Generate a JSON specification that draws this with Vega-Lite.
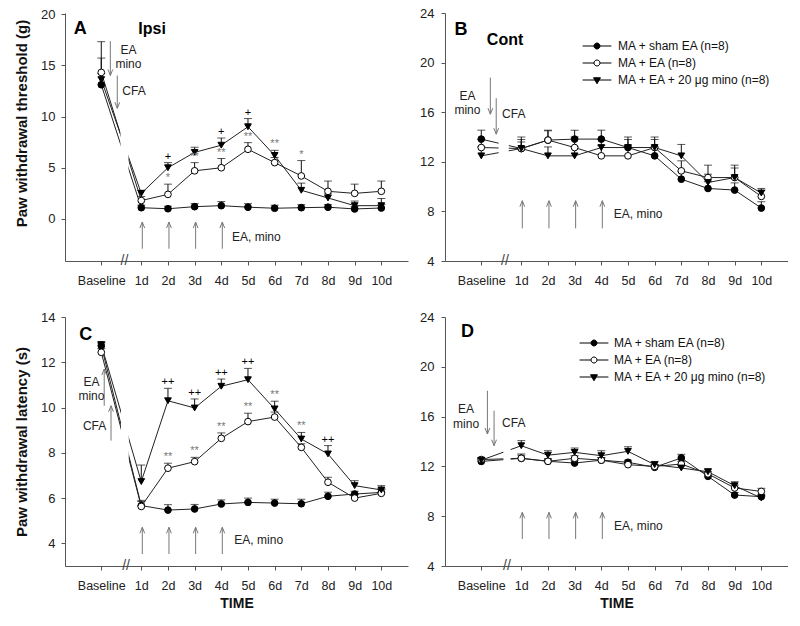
{
  "$schema": "https://vega.github.io/schema/vega-lite/v6.json",
  "padding": {"left": 14, "top": 7, "right": 0, "bottom": 0},
  "background": "white",
  "config": {
    "font": "Liberation Sans",
    "view": {"stroke": null},
    "axis": {"grid": false, "domainColor": "#555", "tickColor": "#555", "tickSize": 4, "labelFontSize": 13, "labelColor": "#222", "titleFontSize": 15, "titleFontWeight": "bold", "titleColor": "#111", "labelFont": "Liberation Sans", "titleFont": "Liberation Sans"},
    "axisX": {"labelPadding": 9, "labelFontSize": 12.5, "titleFontSize": 14, "titlePadding": 5, "labelFlush": false, "labelOverlap": false},
    "axisY": {"labelPadding": 6, "titlePadding": 11, "labelOverlap": false},
    "text": {"font": "Liberation Sans"}
  },
  "datasets": {
    "A": [
      {"series": "sham", "t": -0.5, "mean": 13.1, "upper": 15.7},
      {"series": "sham", "t": 1, "mean": 1.1, "upper": 1.35},
      {"series": "sham", "t": 2, "mean": 1.0, "upper": 1.25},
      {"series": "sham", "t": 3, "mean": 1.2, "upper": 1.5},
      {"series": "sham", "t": 4, "mean": 1.3, "upper": 1.7},
      {"series": "sham", "t": 5, "mean": 1.15, "upper": 1.5},
      {"series": "sham", "t": 6, "mean": 1.05, "upper": 1.35},
      {"series": "sham", "t": 7, "mean": 1.1, "upper": 1.4},
      {"series": "sham", "t": 8, "mean": 1.15, "upper": 1.4},
      {"series": "sham", "t": 9, "mean": 0.98, "upper": 1.2},
      {"series": "sham", "t": 10, "mean": 1.07, "upper": 1.4},
      {"series": "EA", "t": -0.5, "mean": 14.3, "upper": 17.3},
      {"series": "EA", "t": 1, "mean": 1.8, "upper": 2.2},
      {"series": "EA", "t": 2, "mean": 2.4, "upper": 3.4, "sig": "*"},
      {"series": "EA", "t": 3, "mean": 4.7, "upper": 5.5, "sig": "**"},
      {"series": "EA", "t": 4, "mean": 5.0, "upper": 5.9, "sig": "**"},
      {"series": "EA", "t": 5, "mean": 6.8, "upper": 7.45, "sig": "**"},
      {"series": "EA", "t": 6, "mean": 5.5, "upper": 6.0},
      {"series": "EA", "t": 7, "mean": 4.2, "upper": 5.7, "sig": "*"},
      {"series": "EA", "t": 8, "mean": 2.7, "upper": 3.7},
      {"series": "EA", "t": 9, "mean": 2.5, "upper": 3.4},
      {"series": "EA", "t": 10, "mean": 2.7, "upper": 3.7},
      {"series": "mino", "t": -0.5, "mean": 13.6, "upper": 14.2},
      {"series": "mino", "t": 1, "mean": 2.5, "upper": 2.8},
      {"series": "mino", "t": 2, "mean": 5.0, "upper": 5.5, "sig": "+"},
      {"series": "mino", "t": 3, "mean": 6.5, "upper": 7.0},
      {"series": "mino", "t": 4, "mean": 7.2, "upper": 7.9, "sig": "+"},
      {"series": "mino", "t": 5, "mean": 9.0, "upper": 9.8, "sig": "+"},
      {"series": "mino", "t": 6, "mean": 6.2, "upper": 6.7, "sig": "**"},
      {"series": "mino", "t": 7, "mean": 2.8, "upper": 3.5},
      {"series": "mino", "t": 8, "mean": 2.05, "upper": 2.45},
      {"series": "mino", "t": 9, "mean": 1.3, "upper": 1.75},
      {"series": "mino", "t": 10, "mean": 1.3, "upper": 2.0}
    ],
    "B": [
      {"series": "sham", "t": -0.5, "mean": 13.83, "upper": 14.55},
      {"series": "sham", "t": 1, "mean": 13.07, "upper": 14.0},
      {"series": "sham", "t": 2, "mean": 13.75, "upper": 14.5},
      {"series": "sham", "t": 3, "mean": 13.83, "upper": 14.55},
      {"series": "sham", "t": 4, "mean": 13.83, "upper": 14.55},
      {"series": "sham", "t": 5, "mean": 13.15, "upper": 14.0},
      {"series": "sham", "t": 6, "mean": 12.48, "upper": 13.2},
      {"series": "sham", "t": 7, "mean": 10.6, "upper": 11.2},
      {"series": "sham", "t": 8, "mean": 9.85, "upper": 10.4},
      {"series": "sham", "t": 9, "mean": 9.72, "upper": 10.3},
      {"series": "sham", "t": 10, "mean": 8.27, "upper": 8.78},
      {"series": "EA", "t": -0.5, "mean": 13.15, "upper": 13.8},
      {"series": "EA", "t": 1, "mean": 13.07, "upper": 13.8},
      {"series": "EA", "t": 2, "mean": 13.75, "upper": 14.55},
      {"series": "EA", "t": 3, "mean": 13.15, "upper": 14.0},
      {"series": "EA", "t": 4, "mean": 12.48, "upper": 13.3},
      {"series": "EA", "t": 5, "mean": 12.48, "upper": 13.3},
      {"series": "EA", "t": 6, "mean": 13.15, "upper": 14.0},
      {"series": "EA", "t": 7, "mean": 11.27, "upper": 12.08},
      {"series": "EA", "t": 8, "mean": 10.73, "upper": 11.73},
      {"series": "EA", "t": 9, "mean": 10.73, "upper": 11.73},
      {"series": "EA", "t": 10, "mean": 9.21, "upper": 9.7},
      {"series": "mino", "t": -0.5, "mean": 12.48, "upper": 13.2},
      {"series": "mino", "t": 1, "mean": 13.07, "upper": 13.6},
      {"series": "mino", "t": 2, "mean": 12.48, "upper": 13.2},
      {"series": "mino", "t": 3, "mean": 12.48, "upper": 13.2},
      {"series": "mino", "t": 4, "mean": 13.15, "upper": 13.8},
      {"series": "mino", "t": 5, "mean": 13.15, "upper": 13.8},
      {"series": "mino", "t": 6, "mean": 13.15, "upper": 13.8},
      {"series": "mino", "t": 7, "mean": 12.48, "upper": 13.4},
      {"series": "mino", "t": 8, "mean": 10.33, "upper": 11.0},
      {"series": "mino", "t": 9, "mean": 10.73, "upper": 11.5},
      {"series": "mino", "t": 10, "mean": 9.48, "upper": 9.85}
    ],
    "C": [
      {"series": "sham", "t": -0.5, "mean": 12.73, "upper": 12.85},
      {"series": "sham", "t": 1, "mean": 5.67, "upper": 5.85},
      {"series": "sham", "t": 2, "mean": 5.47, "upper": 5.71},
      {"series": "sham", "t": 3, "mean": 5.52, "upper": 5.72},
      {"series": "sham", "t": 4, "mean": 5.74, "upper": 5.92},
      {"series": "sham", "t": 5, "mean": 5.81, "upper": 6.0},
      {"series": "sham", "t": 6, "mean": 5.78, "upper": 5.95},
      {"series": "sham", "t": 7, "mean": 5.75, "upper": 5.95},
      {"series": "sham", "t": 8, "mean": 6.08, "upper": 6.26},
      {"series": "sham", "t": 9, "mean": 6.18, "upper": 6.3},
      {"series": "sham", "t": 10, "mean": 6.25, "upper": 6.4},
      {"series": "EA", "t": -0.5, "mean": 12.44, "upper": 12.6},
      {"series": "EA", "t": 1, "mean": 5.63, "upper": 5.9},
      {"series": "EA", "t": 2, "mean": 7.32, "upper": 7.54, "sig": "**"},
      {"series": "EA", "t": 3, "mean": 7.61, "upper": 7.8, "sig": "**"},
      {"series": "EA", "t": 4, "mean": 8.64, "upper": 8.88, "sig": "**"},
      {"series": "EA", "t": 5, "mean": 9.38, "upper": 9.75, "sig": "**"},
      {"series": "EA", "t": 6, "mean": 9.58, "upper": 9.8},
      {"series": "EA", "t": 7, "mean": 8.24, "upper": 8.4},
      {"series": "EA", "t": 8, "mean": 6.7, "upper": 6.92},
      {"series": "EA", "t": 9, "mean": 6.0, "upper": 6.15},
      {"series": "EA", "t": 10, "mean": 6.21, "upper": 6.4},
      {"series": "mino", "t": -0.5, "mean": 12.78, "upper": 12.9},
      {"series": "mino", "t": 1, "mean": 6.73, "upper": 7.46},
      {"series": "mino", "t": 2, "mean": 10.3, "upper": 10.85, "sig": "++"},
      {"series": "mino", "t": 3, "mean": 9.98, "upper": 10.38, "sig": "++"},
      {"series": "mino", "t": 4, "mean": 10.94, "upper": 11.26, "sig": "++"},
      {"series": "mino", "t": 5, "mean": 11.23, "upper": 11.73, "sig": "++"},
      {"series": "mino", "t": 6, "mean": 9.94, "upper": 10.28, "sig": "**"},
      {"series": "mino", "t": 7, "mean": 8.61, "upper": 8.9, "sig": "**"},
      {"series": "mino", "t": 8, "mean": 7.95, "upper": 8.32, "sig": "++"},
      {"series": "mino", "t": 9, "mean": 6.55, "upper": 6.77},
      {"series": "mino", "t": 10, "mean": 6.36, "upper": 6.55}
    ],
    "D": [
      {"series": "sham", "t": -0.5, "mean": 12.4, "upper": 12.6},
      {"series": "sham", "t": 1, "mean": 12.65, "upper": 12.9},
      {"series": "sham", "t": 2, "mean": 12.41, "upper": 12.6},
      {"series": "sham", "t": 3, "mean": 12.27, "upper": 12.5},
      {"series": "sham", "t": 4, "mean": 12.5, "upper": 12.7},
      {"series": "sham", "t": 5, "mean": 12.33, "upper": 12.5},
      {"series": "sham", "t": 6, "mean": 11.93, "upper": 12.1},
      {"series": "sham", "t": 7, "mean": 12.68, "upper": 12.97},
      {"series": "sham", "t": 8, "mean": 11.2, "upper": 11.45},
      {"series": "sham", "t": 9, "mean": 9.7, "upper": 9.9},
      {"series": "sham", "t": 10, "mean": 9.57, "upper": 9.75},
      {"series": "EA", "t": -0.5, "mean": 12.55, "upper": 12.7},
      {"series": "EA", "t": 1, "mean": 12.65, "upper": 13.0},
      {"series": "EA", "t": 2, "mean": 12.41, "upper": 12.6},
      {"series": "EA", "t": 3, "mean": 12.65, "upper": 12.85},
      {"series": "EA", "t": 4, "mean": 12.5, "upper": 12.7},
      {"series": "EA", "t": 5, "mean": 12.14, "upper": 12.3},
      {"series": "EA", "t": 6, "mean": 12.0, "upper": 12.15},
      {"series": "EA", "t": 7, "mean": 12.19, "upper": 12.4},
      {"series": "EA", "t": 8, "mean": 11.4, "upper": 11.6},
      {"series": "EA", "t": 9, "mean": 10.27, "upper": 10.5},
      {"series": "EA", "t": 10, "mean": 9.99, "upper": 10.24},
      {"series": "mino", "t": -0.5, "mean": 12.5, "upper": 12.65},
      {"series": "mino", "t": 1, "mean": 13.66, "upper": 14.07},
      {"series": "mino", "t": 2, "mean": 12.9, "upper": 13.26},
      {"series": "mino", "t": 3, "mean": 13.13, "upper": 13.48},
      {"series": "mino", "t": 4, "mean": 12.86, "upper": 13.26},
      {"series": "mino", "t": 5, "mean": 13.21, "upper": 13.58},
      {"series": "mino", "t": 6, "mean": 12.14, "upper": 12.4},
      {"series": "mino", "t": 7, "mean": 11.87, "upper": 12.05},
      {"series": "mino", "t": 8, "mean": 11.57, "upper": 11.8},
      {"series": "mino", "t": 9, "mean": 10.45, "upper": 10.77},
      {"series": "mino", "t": 10, "mean": 9.46, "upper": 9.65}
    ]
  },
  "resolve": {"scale": {"x": "independent", "y": "independent", "shape": "independent", "fill": "independent"}, "legend": {"shape": "independent", "fill": "independent"}},
  "bounds": "flush",
  "columns": 2,
  "spacing": {"row": 56, "column": 37},
  "concat": [
    {
      "width": 343, "height": 248,
      "data": {"name": "A"},
      "resolve": {"scale": {"shape": "independent", "fill": "independent"}, "legend": {"shape": "independent", "fill": "independent"}},
      "encoding": {
        "x": {"field": "t", "type": "quantitative", "scale": {"domain": [-1.86, 11], "nice": false, "zero": false}, "axis": {"values": [-0.5, 1, 2, 3, 4, 5, 6, 7, 8, 9, 10], "labelExpr": "datum.value < 0 ? 'Baseline' : datum.value + 'd'", "title": null}},
        "y": {"field": "mean", "type": "quantitative", "scale": {"domain": [-4.1, 20.1], "nice": false, "zero": false}, "axis": {"values": [0, 5, 10, 15, 20], "title": "Paw withdrawal threshold (g)", "titleY": 110}}
      },
      "layer": [
        {"transform": [{"filter": "datum.upper > datum.mean"}], "mark": {"type": "rule", "color": "#111", "strokeWidth": 1}, "encoding": {"y2": {"field": "upper"}}},
        {"transform": [{"filter": "datum.upper > datum.mean"}], "mark": {"type": "tick", "orient": "horizontal", "color": "#111", "size": 8, "thickness": 1}, "encoding": {"y": {"field": "upper", "type": "quantitative"}}},
        {"mark": {"type": "line", "color": "#222", "strokeWidth": 1}, "encoding": {"detail": {"field": "series"}}},
        {"transform": [{"filter": "datum.series == 'sham' && datum.t == 1"}], "mark": {"type": "rect", "color": "white"}, "encoding": {"x": {"datum": 0.22}, "x2": {"datum": 0.52}, "y": {"datum": 0.5}, "y2": {"datum": 12}}},
        {"mark": {"type": "point", "size": 45, "filled": true, "stroke": "black", "strokeWidth": 1, "opacity": 1}, "encoding": {"shape": {"field": "series", "scale": {"domain": ["sham", "EA", "mino"], "range": ["circle", "circle", "triangle-down"]}, "legend": null}, "fill": {"field": "series", "scale": {"domain": ["sham", "EA", "mino"], "range": ["black", "white", "black"]}, "legend": null}}},
        {"transform": [{"filter": "datum.sig"}], "mark": {"type": "text", "baseline": "bottom", "dy": -1, "fontSize": 11}, "encoding": {"y": {"field": "upper", "type": "quantitative"}, "text": {"field": "sig"}, "color": {"condition": {"test": "indexof(datum.sig, '*') >= 0", "value": "#777"}, "value": "#000"}}},
        {"transform": [{"filter": "datum.series == 'sham' && datum.t >= 1 && datum.t <= 4"}], "mark": {"type": "rule", "color": "#777", "xOffset": 1}, "encoding": {"y": {"datum": -2.9}, "y2": {"datum": -0.3}}},
        {"transform": [{"filter": "datum.series == 'sham' && datum.t >= 1 && datum.t <= 4"}], "mark": {"type": "point", "shape": "M-0.6,1.5L0,0L0.6,1.5", "size": 64, "filled": false, "color": "#777", "strokeWidth": 1, "opacity": 1, "xOffset": 1}, "encoding": {"y": {"datum": -0.3}}},
        {"transform": [{"filter": "datum.series == 'sham' && datum.t == 1"}], "mark": {"type": "rule", "color": "#777"}, "encoding": {"x": {"datum": -0.16}, "y": {"datum": 17.35}, "y2": {"datum": 14.0}}},
        {"transform": [{"filter": "datum.series == 'sham' && datum.t == 1"}], "mark": {"type": "point", "shape": "M-0.6,-1.5L0,0L0.6,-1.5", "size": 64, "filled": false, "color": "#777", "strokeWidth": 1, "opacity": 1}, "encoding": {"x": {"datum": -0.16}, "y": {"datum": 14.0}}},
        {"transform": [{"filter": "datum.series == 'sham' && datum.t == 1"}], "mark": {"type": "rule", "color": "#777"}, "encoding": {"x": {"datum": 0.1}, "y": {"datum": 14.0}, "y2": {"datum": 10.8}}},
        {"transform": [{"filter": "datum.series == 'sham' && datum.t == 1"}], "mark": {"type": "point", "shape": "M-0.6,-1.5L0,0L0.6,-1.5", "size": 64, "filled": false, "color": "#777", "strokeWidth": 1, "opacity": 1}, "encoding": {"x": {"datum": 0.1}, "y": {"datum": 10.8}}},
        {"transform": [{"filter": "datum.series == 'sham' && datum.t == 1"}], "mark": {"type": "text", "text": "A", "fontSize": 18, "fontWeight": "bold", "color": "black"}, "encoding": {"x": {"datum": -1.29}, "y": {"datum": 18.5}}},
        {"transform": [{"filter": "datum.series == 'sham' && datum.t == 1"}], "mark": {"type": "text", "text": "Ipsi", "align": "left", "fontSize": 16, "fontWeight": "bold", "color": "black"}, "encoding": {"x": {"datum": 0.89}, "y": {"datum": 18.5}}},
        {"transform": [{"filter": "datum.series == 'sham' && datum.t == 1"}], "mark": {"type": "text", "text": "EA", "align": "left", "fontSize": 12, "color": "#222"}, "encoding": {"x": {"datum": 0.22}, "y": {"datum": 16.5}}},
        {"transform": [{"filter": "datum.series == 'sham' && datum.t == 1"}], "mark": {"type": "text", "text": "mino", "align": "left", "fontSize": 12, "color": "#222"}, "encoding": {"x": {"datum": 0.03}, "y": {"datum": 15.1}}},
        {"transform": [{"filter": "datum.series == 'sham' && datum.t == 1"}], "mark": {"type": "text", "text": "CFA", "align": "left", "fontSize": 12, "color": "#222"}, "encoding": {"x": {"datum": 0.29}, "y": {"datum": 12.45}}},
        {"transform": [{"filter": "datum.series == 'sham' && datum.t == 1"}], "mark": {"type": "text", "text": "EA, mino", "align": "left", "fontSize": 12, "color": "#222"}, "encoding": {"x": {"datum": 4.4}, "y": {"datum": -1.8}}},
        {"transform": [{"filter": "datum.series == 'sham' && datum.t == 1"}], "mark": {"type": "text", "text": "//", "fontSize": 14, "color": "#444"}, "encoding": {"x": {"datum": 0.37}, "y": {"datum": -4.1}}}
      ]
    },
    {
      "width": 343, "height": 248,
      "data": {"name": "B"},
      "resolve": {"scale": {"shape": "independent", "fill": "independent"}, "legend": {"shape": "independent", "fill": "independent"}},
      "encoding": {
        "x": {"field": "t", "type": "quantitative", "scale": {"domain": [-1.86, 11], "nice": false, "zero": false}, "axis": {"values": [-0.5, 1, 2, 3, 4, 5, 6, 7, 8, 9, 10], "labelExpr": "datum.value < 0 ? 'Baseline' : datum.value + 'd'", "title": null}},
        "y": {"field": "mean", "type": "quantitative", "scale": {"domain": [4, 24], "nice": false, "zero": false}, "axis": {"values": [4, 8, 12, 16, 20, 24], "title": null, "labelPadding": 7}}
      },
      "layer": [
        {"transform": [{"filter": "datum.upper > datum.mean"}], "mark": {"type": "rule", "color": "#111", "strokeWidth": 1}, "encoding": {"y2": {"field": "upper"}}},
        {"transform": [{"filter": "datum.upper > datum.mean"}], "mark": {"type": "tick", "orient": "horizontal", "color": "#111", "size": 8, "thickness": 1}, "encoding": {"y": {"field": "upper", "type": "quantitative"}}},
        {"mark": {"type": "line", "color": "#222", "strokeWidth": 1}, "encoding": {"detail": {"field": "series"}}},
        {"transform": [{"filter": "datum.series == 'sham' && datum.t == 1"}], "mark": {"type": "rect", "color": "white"}, "encoding": {"x": {"datum": 0.15}, "x2": {"datum": 0.53}, "y": {"datum": 11.5}, "y2": {"datum": 14.5}}},
        {"mark": {"type": "point", "size": 45, "filled": true, "stroke": "black", "strokeWidth": 1, "opacity": 1}, "encoding": {"shape": {"field": "series", "scale": {"domain": ["sham", "EA", "mino"], "range": ["circle", "circle", "triangle-down"]}, "legend": null}, "fill": {"field": "series", "scale": {"domain": ["sham", "EA", "mino"], "range": ["black", "white", "black"]}, "legend": null}}},
        {"mark": {"type": "point", "opacity": 0, "filled": false, "color": "black", "strokeWidth": 1},
         "encoding": {
           "shape": {"field": "series", "scale": {"domain": ["sham", "EA", "mino"], "range": ["M-4.8,0H-1M1,0H4.8M-1,0A1,1,0,1,0,1,0A1,1,0,1,0,-1,0Z", "M-4.8,0H-1M1,0H4.8M-1,0A1,1,0,1,0,1,0A1,1,0,1,0,-1,0Z", "M-4.8,0H4.8M-1.15,-0.75L1.15,-0.75L0,1.25Z"]},
             "legend": {"orient": "none", "legendX": 146, "legendY": 27, "title": null, "padding": 0, "symbolSize": 36, "symbolOpacity": 1, "symbolStrokeWidth": 1, "labelOffset": 15, "rowPadding": 5, "labelFontSize": 12, "labelColor": "#111", "labelFont": "Liberation Sans", "labelExpr": "datum.label == 'sham' ? 'MA + sham EA (n=8)' : datum.label == 'EA' ? 'MA + EA (n=8)' : 'MA + EA + 20 μg mino (n=8)'", "encode": {"symbols": {"stroke": {"value": "#222"}, "strokeWidth": {"value": 1}}}}},
           "fill": {"field": "series", "scale": {"domain": ["sham", "EA", "mino"], "range": ["black", "white", "black"]},
             "legend": {"orient": "none", "legendX": 146, "legendY": 27, "title": null, "padding": 0, "symbolSize": 36, "symbolOpacity": 1, "symbolStrokeWidth": 1, "labelOffset": 15, "rowPadding": 5, "labelFontSize": 12, "labelColor": "#111", "labelFont": "Liberation Sans", "labelExpr": "datum.label == 'sham' ? 'MA + sham EA (n=8)' : datum.label == 'EA' ? 'MA + EA (n=8)' : 'MA + EA + 20 μg mino (n=8)'", "encode": {"symbols": {"stroke": {"value": "#222"}, "strokeWidth": {"value": 1}}}}}
         }},
        {"transform": [{"filter": "datum.series == 'sham' && datum.t >= 1 && datum.t <= 4"}], "mark": {"type": "rule", "color": "#777", "xOffset": 1}, "encoding": {"y": {"datum": 6.63}, "y2": {"datum": 8.86}}},
        {"transform": [{"filter": "datum.series == 'sham' && datum.t >= 1 && datum.t <= 4"}], "mark": {"type": "point", "shape": "M-0.6,1.5L0,0L0.6,1.5", "size": 64, "filled": false, "color": "#777", "strokeWidth": 1, "opacity": 1, "xOffset": 1}, "encoding": {"y": {"datum": 8.86}}},
        {"transform": [{"filter": "datum.series == 'sham' && datum.t == 1"}], "mark": {"type": "rule", "color": "#777"}, "encoding": {"x": {"datum": -0.16}, "y": {"datum": 18.79}, "y2": {"datum": 15.84}}},
        {"transform": [{"filter": "datum.series == 'sham' && datum.t == 1"}], "mark": {"type": "point", "shape": "M-0.6,-1.5L0,0L0.6,-1.5", "size": 64, "filled": false, "color": "#777", "strokeWidth": 1, "opacity": 1}, "encoding": {"x": {"datum": -0.16}, "y": {"datum": 15.84}}},
        {"transform": [{"filter": "datum.series == 'sham' && datum.t == 1"}], "mark": {"type": "rule", "color": "#777"}, "encoding": {"x": {"datum": 0.06}, "y": {"datum": 17.13}, "y2": {"datum": 14.23}}},
        {"transform": [{"filter": "datum.series == 'sham' && datum.t == 1"}], "mark": {"type": "point", "shape": "M-0.6,-1.5L0,0L0.6,-1.5", "size": 64, "filled": false, "color": "#777", "strokeWidth": 1, "opacity": 1}, "encoding": {"x": {"datum": 0.06}, "y": {"datum": 14.23}}},
        {"transform": [{"filter": "datum.series == 'sham' && datum.t == 1"}], "mark": {"type": "text", "text": "B", "fontSize": 18, "fontWeight": "bold", "color": "black"}, "encoding": {"x": {"datum": -1.26}, "y": {"datum": 22.6}}},
        {"transform": [{"filter": "datum.series == 'sham' && datum.t == 1"}], "mark": {"type": "text", "text": "Cont", "align": "left", "fontSize": 16, "fontWeight": "bold", "color": "black"}, "encoding": {"x": {"datum": -0.29}, "y": {"datum": 21.8}}},
        {"transform": [{"filter": "datum.series == 'sham' && datum.t == 1"}], "mark": {"type": "text", "text": "EA", "fontSize": 12, "color": "#222"}, "encoding": {"x": {"datum": -1.02}, "y": {"datum": 17.3}}},
        {"transform": [{"filter": "datum.series == 'sham' && datum.t == 1"}], "mark": {"type": "text", "text": "mino", "fontSize": 12, "color": "#222"}, "encoding": {"x": {"datum": -1.02}, "y": {"datum": 16.2}}},
        {"transform": [{"filter": "datum.series == 'sham' && datum.t == 1"}], "mark": {"type": "text", "text": "CFA", "align": "left", "fontSize": 12, "color": "#222"}, "encoding": {"x": {"datum": 0.28}, "y": {"datum": 15.84}}},
        {"transform": [{"filter": "datum.series == 'sham' && datum.t == 1"}], "mark": {"type": "text", "text": "EA, mino", "align": "left", "fontSize": 12, "color": "#222"}, "encoding": {"x": {"datum": 4.47}, "y": {"datum": 7.79}}},
        {"transform": [{"filter": "datum.series == 'sham' && datum.t == 1"}], "mark": {"type": "text", "text": "//", "fontSize": 14, "color": "#444"}, "encoding": {"x": {"datum": 0.39}, "y": {"datum": 4}}}
      ]
    },
    {
      "width": 343, "height": 249,
      "data": {"name": "C"},
      "resolve": {"scale": {"shape": "independent", "fill": "independent"}, "legend": {"shape": "independent", "fill": "independent"}},
      "encoding": {
        "x": {"field": "t", "type": "quantitative", "scale": {"domain": [-1.86, 11], "nice": false, "zero": false}, "axis": {"values": [-0.5, 1, 2, 3, 4, 5, 6, 7, 8, 9, 10], "labelExpr": "datum.value < 0 ? 'Baseline' : datum.value + 'd'", "title": "TIME"}},
        "y": {"field": "mean", "type": "quantitative", "scale": {"domain": [3, 14], "nice": false, "zero": false}, "axis": {"values": [4, 6, 8, 10, 12, 14], "title": "Paw withdrawal latency (s)"}}
      },
      "layer": [
        {"transform": [{"filter": "datum.upper > datum.mean"}], "mark": {"type": "rule", "color": "#111", "strokeWidth": 1}, "encoding": {"y2": {"field": "upper"}}},
        {"transform": [{"filter": "datum.upper > datum.mean"}], "mark": {"type": "tick", "orient": "horizontal", "color": "#111", "size": 8, "thickness": 1}, "encoding": {"y": {"field": "upper", "type": "quantitative"}}},
        {"mark": {"type": "line", "color": "#222", "strokeWidth": 1}, "encoding": {"detail": {"field": "series"}}},
        {"transform": [{"filter": "datum.series == 'sham' && datum.t == 1"}], "mark": {"type": "rect", "color": "white"}, "encoding": {"x": {"datum": 0.24}, "x2": {"datum": 0.53}, "y": {"datum": 6}, "y2": {"datum": 12.2}}},
        {"mark": {"type": "point", "size": 45, "filled": true, "stroke": "black", "strokeWidth": 1, "opacity": 1}, "encoding": {"shape": {"field": "series", "scale": {"domain": ["sham", "EA", "mino"], "range": ["circle", "circle", "triangle-down"]}, "legend": null}, "fill": {"field": "series", "scale": {"domain": ["sham", "EA", "mino"], "range": ["black", "white", "black"]}, "legend": null}}},
        {"transform": [{"filter": "datum.sig"}], "mark": {"type": "text", "baseline": "bottom", "dy": -1, "fontSize": 11}, "encoding": {"y": {"field": "upper", "type": "quantitative"}, "text": {"field": "sig"}, "color": {"condition": {"test": "indexof(datum.sig, '*') >= 0", "value": "#777"}, "value": "#000"}}},
        {"transform": [{"filter": "datum.series == 'sham' && datum.t >= 1 && datum.t <= 4"}], "mark": {"type": "rule", "color": "#777", "xOffset": 1}, "encoding": {"y": {"datum": 3.53}, "y2": {"datum": 4.71}}},
        {"transform": [{"filter": "datum.series == 'sham' && datum.t >= 1 && datum.t <= 4"}], "mark": {"type": "point", "shape": "M-0.6,1.5L0,0L0.6,1.5", "size": 64, "filled": false, "color": "#777", "strokeWidth": 1, "opacity": 1, "xOffset": 1}, "encoding": {"y": {"datum": 4.71}}},
        {"transform": [{"filter": "datum.series == 'sham' && datum.t == 1"}], "mark": {"type": "rule", "color": "#777"}, "encoding": {"x": {"datum": -0.39}, "y": {"datum": 10.08}, "y2": {"datum": 11.7}}},
        {"transform": [{"filter": "datum.series == 'sham' && datum.t == 1"}], "mark": {"type": "point", "shape": "M-0.6,1.5L0,0L0.6,1.5", "size": 64, "filled": false, "color": "#777", "strokeWidth": 1, "opacity": 1}, "encoding": {"x": {"datum": -0.39}, "y": {"datum": 11.7}}},
        {"transform": [{"filter": "datum.series == 'sham' && datum.t == 1"}], "mark": {"type": "rule", "color": "#777"}, "encoding": {"x": {"datum": -0.135}, "y": {"datum": 8.54}, "y2": {"datum": 10.08}}},
        {"transform": [{"filter": "datum.series == 'sham' && datum.t == 1"}], "mark": {"type": "point", "shape": "M-0.6,1.5L0,0L0.6,1.5", "size": 64, "filled": false, "color": "#777", "strokeWidth": 1, "opacity": 1}, "encoding": {"x": {"datum": -0.135}, "y": {"datum": 10.08}}},
        {"transform": [{"filter": "datum.series == 'sham' && datum.t == 1"}], "mark": {"type": "text", "text": "C", "fontSize": 18, "fontWeight": "bold", "color": "black"}, "encoding": {"x": {"datum": -1.08}, "y": {"datum": 13.2}}},
        {"transform": [{"filter": "datum.series == 'sham' && datum.t == 1"}], "mark": {"type": "text", "text": "EA", "fontSize": 12, "color": "#222"}, "encoding": {"x": {"datum": -0.87}, "y": {"datum": 11.12}}},
        {"transform": [{"filter": "datum.series == 'sham' && datum.t == 1"}], "mark": {"type": "text", "text": "mino", "fontSize": 12, "color": "#222"}, "encoding": {"x": {"datum": -0.87}, "y": {"datum": 10.52}}},
        {"transform": [{"filter": "datum.series == 'sham' && datum.t == 1"}], "mark": {"type": "text", "text": "CFA", "fontSize": 12, "color": "#222"}, "encoding": {"x": {"datum": -0.75}, "y": {"datum": 9.2}}},
        {"transform": [{"filter": "datum.series == 'sham' && datum.t == 1"}], "mark": {"type": "text", "text": "EA, mino", "align": "left", "fontSize": 12, "color": "#222"}, "encoding": {"x": {"datum": 4.49}, "y": {"datum": 4.16}}},
        {"transform": [{"filter": "datum.series == 'sham' && datum.t == 1"}], "mark": {"type": "text", "text": "//", "fontSize": 14, "color": "#444"}, "encoding": {"x": {"datum": 0.43}, "y": {"datum": 3}}}
      ]
    },
    {
      "width": 343, "height": 249,
      "data": {"name": "D"},
      "resolve": {"scale": {"shape": "independent", "fill": "independent"}, "legend": {"shape": "independent", "fill": "independent"}},
      "encoding": {
        "x": {"field": "t", "type": "quantitative", "scale": {"domain": [-1.86, 11], "nice": false, "zero": false}, "axis": {"values": [-0.5, 1, 2, 3, 4, 5, 6, 7, 8, 9, 10], "labelExpr": "datum.value < 0 ? 'Baseline' : datum.value + 'd'", "title": "TIME"}},
        "y": {"field": "mean", "type": "quantitative", "scale": {"domain": [4, 24], "nice": false, "zero": false}, "axis": {"values": [4, 8, 12, 16, 20, 24], "title": null, "labelPadding": 7}}
      },
      "layer": [
        {"transform": [{"filter": "datum.upper > datum.mean"}], "mark": {"type": "rule", "color": "#111", "strokeWidth": 1}, "encoding": {"y2": {"field": "upper"}}},
        {"transform": [{"filter": "datum.upper > datum.mean"}], "mark": {"type": "tick", "orient": "horizontal", "color": "#111", "size": 8, "thickness": 1}, "encoding": {"y": {"field": "upper", "type": "quantitative"}}},
        {"mark": {"type": "line", "color": "#222", "strokeWidth": 1}, "encoding": {"detail": {"field": "series"}}},
        {"transform": [{"filter": "datum.series == 'sham' && datum.t == 1"}], "mark": {"type": "rect", "color": "white"}, "encoding": {"x": {"datum": 0.33}, "x2": {"datum": 0.6}, "y": {"datum": 11.3}, "y2": {"datum": 13.7}}},
        {"mark": {"type": "point", "size": 45, "filled": true, "stroke": "black", "strokeWidth": 1, "opacity": 1}, "encoding": {"shape": {"field": "series", "scale": {"domain": ["sham", "EA", "mino"], "range": ["circle", "circle", "triangle-down"]}, "legend": null}, "fill": {"field": "series", "scale": {"domain": ["sham", "EA", "mino"], "range": ["black", "white", "black"]}, "legend": null}}},
        {"mark": {"type": "point", "opacity": 0, "filled": false, "color": "black", "strokeWidth": 1},
         "encoding": {
           "shape": {"field": "series", "scale": {"domain": ["sham", "EA", "mino"], "range": ["M-4.8,0H-1M1,0H4.8M-1,0A1,1,0,1,0,1,0A1,1,0,1,0,-1,0Z", "M-4.8,0H-1M1,0H4.8M-1,0A1,1,0,1,0,1,0A1,1,0,1,0,-1,0Z", "M-4.8,0H4.8M-1.15,-0.75L1.15,-0.75L0,1.25Z"]},
             "legend": {"orient": "none", "legendX": 143, "legendY": 20, "title": null, "padding": 0, "symbolSize": 36, "symbolOpacity": 1, "symbolStrokeWidth": 1, "labelOffset": 14, "rowPadding": 5, "labelFontSize": 12, "labelColor": "#111", "labelFont": "Liberation Sans", "labelExpr": "datum.label == 'sham' ? 'MA + sham EA (n=8)' : datum.label == 'EA' ? 'MA + EA (n=8)' : 'MA + EA + 20 μg mino (n=8)'", "encode": {"symbols": {"stroke": {"value": "#222"}, "strokeWidth": {"value": 1}}}}},
           "fill": {"field": "series", "scale": {"domain": ["sham", "EA", "mino"], "range": ["black", "white", "black"]},
             "legend": {"orient": "none", "legendX": 143, "legendY": 20, "title": null, "padding": 0, "symbolSize": 36, "symbolOpacity": 1, "symbolStrokeWidth": 1, "labelOffset": 14, "rowPadding": 5, "labelFontSize": 12, "labelColor": "#111", "labelFont": "Liberation Sans", "labelExpr": "datum.label == 'sham' ? 'MA + sham EA (n=8)' : datum.label == 'EA' ? 'MA + EA (n=8)' : 'MA + EA + 20 μg mino (n=8)'", "encode": {"symbols": {"stroke": {"value": "#222"}, "strokeWidth": {"value": 1}}}}}
         }},
        {"transform": [{"filter": "datum.series == 'sham' && datum.t >= 1 && datum.t <= 4"}], "mark": {"type": "rule", "color": "#777", "xOffset": 1}, "encoding": {"y": {"datum": 6.17}, "y2": {"datum": 8.31}}},
        {"transform": [{"filter": "datum.series == 'sham' && datum.t >= 1 && datum.t <= 4"}], "mark": {"type": "point", "shape": "M-0.6,1.5L0,0L0.6,1.5", "size": 64, "filled": false, "color": "#777", "strokeWidth": 1, "opacity": 1, "xOffset": 1}, "encoding": {"y": {"datum": 8.31}}},
        {"transform": [{"filter": "datum.series == 'sham' && datum.t == 1"}], "mark": {"type": "rule", "color": "#777"}, "encoding": {"x": {"datum": -0.27}, "y": {"datum": 18.08}, "y2": {"datum": 14.6}}},
        {"transform": [{"filter": "datum.series == 'sham' && datum.t == 1"}], "mark": {"type": "point", "shape": "M-0.6,-1.5L0,0L0.6,-1.5", "size": 64, "filled": false, "color": "#777", "strokeWidth": 1, "opacity": 1}, "encoding": {"x": {"datum": -0.27}, "y": {"datum": 14.6}}},
        {"transform": [{"filter": "datum.series == 'sham' && datum.t == 1"}], "mark": {"type": "rule", "color": "#777"}, "encoding": {"x": {"datum": -0.02}, "y": {"datum": 16.47}, "y2": {"datum": 13.66}}},
        {"transform": [{"filter": "datum.series == 'sham' && datum.t == 1"}], "mark": {"type": "point", "shape": "M-0.6,-1.5L0,0L0.6,-1.5", "size": 64, "filled": false, "color": "#777", "strokeWidth": 1, "opacity": 1}, "encoding": {"x": {"datum": -0.02}, "y": {"datum": 13.66}}},
        {"transform": [{"filter": "datum.series == 'sham' && datum.t == 1"}], "mark": {"type": "text", "text": "D", "fontSize": 18, "fontWeight": "bold", "color": "black"}, "encoding": {"x": {"datum": -1.02}, "y": {"datum": 22.8}}},
        {"transform": [{"filter": "datum.series == 'sham' && datum.t == 1"}], "mark": {"type": "text", "text": "EA", "fontSize": 12, "color": "#222"}, "encoding": {"x": {"datum": -1.07}, "y": {"datum": 16.6}}},
        {"transform": [{"filter": "datum.series == 'sham' && datum.t == 1"}], "mark": {"type": "text", "text": "mino", "fontSize": 12, "color": "#222"}, "encoding": {"x": {"datum": -1.07}, "y": {"datum": 15.4}}},
        {"transform": [{"filter": "datum.series == 'sham' && datum.t == 1"}], "mark": {"type": "text", "text": "CFA", "align": "left", "fontSize": 12, "color": "#222"}, "encoding": {"x": {"datum": 0.28}, "y": {"datum": 15.5}}},
        {"transform": [{"filter": "datum.series == 'sham' && datum.t == 1"}], "mark": {"type": "text", "text": "EA, mino", "align": "left", "fontSize": 12, "color": "#222"}, "encoding": {"x": {"datum": 4.48}, "y": {"datum": 7.24}}},
        {"transform": [{"filter": "datum.series == 'sham' && datum.t == 1"}], "mark": {"type": "text", "text": "//", "fontSize": 14, "color": "#444"}, "encoding": {"x": {"datum": 0.46}, "y": {"datum": 4}}}
      ]
    }
  ]
}
